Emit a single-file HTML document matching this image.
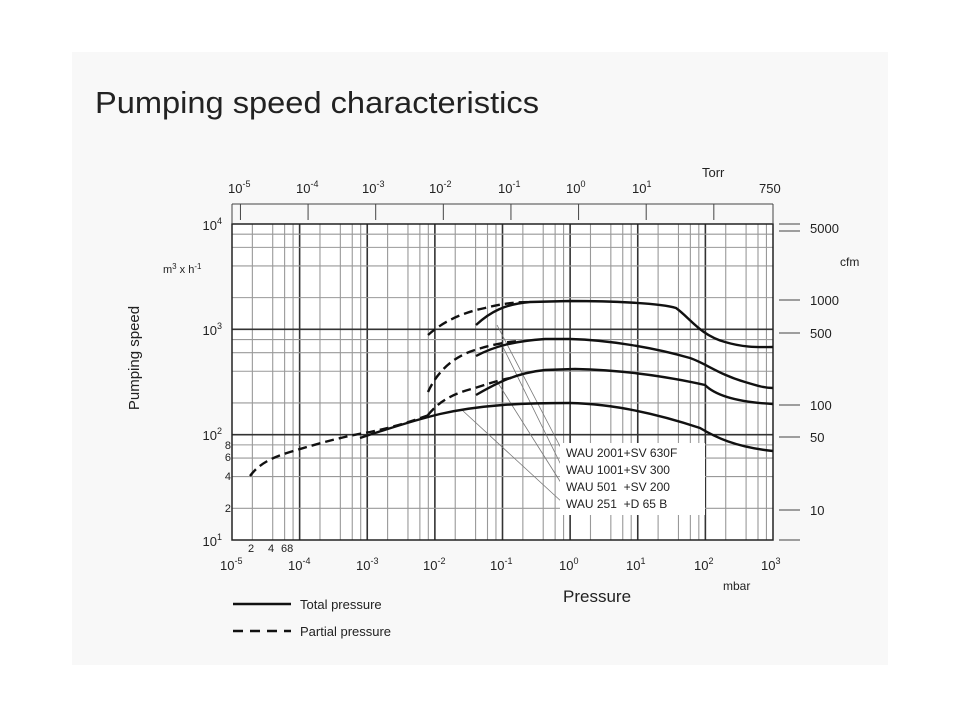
<!DOCTYPE html>
<html><head><meta charset="utf-8"><style>
body{margin:0;background:#fff;}
svg{display:block;font-family:"Liberation Sans",Arial,sans-serif;}
text{white-space:pre;}
</style></head><body>
<svg id="s" width="960" height="720" xmlns="http://www.w3.org/2000/svg">
<rect x="72" y="52" width="816" height="613" fill="#f8f8f8"/>
<text x="95" y="113" font-size="31" fill="#222" textLength="444" lengthAdjust="spacingAndGlyphs">Pumping speed characteristics</text>
<rect x="232" y="224" width="541" height="316" fill="#fff"/>
<g id="grid"></g>
<rect x="232" y="224" width="541" height="316" fill="none" stroke="#222" stroke-width="1.5"/>
<line x1="232" y1="204" x2="773" y2="204" stroke="#444" stroke-width="1"/>
<line x1="232" y1="204" x2="232" y2="224" stroke="#444"/>
<line x1="773" y1="204" x2="773" y2="224" stroke="#444"/>
<g id="ttick" stroke="#444" stroke-width="1"></g>
<g font-size="13" fill="#222">
<text x="228" y="193">10<tspan font-size="9" dy="-6">-5</tspan></text>
<text x="296" y="193">10<tspan font-size="9" dy="-6">-4</tspan></text>
<text x="362" y="193">10<tspan font-size="9" dy="-6">-3</tspan></text>
<text x="429" y="193">10<tspan font-size="9" dy="-6">-2</tspan></text>
<text x="498" y="193">10<tspan font-size="9" dy="-6">-1</tspan></text>
<text x="566" y="193">10<tspan font-size="9" dy="-6">0</tspan></text>
<text x="632" y="193">10<tspan font-size="9" dy="-6">1</tspan></text>
<text x="702" y="177">Torr</text>
<text x="759" y="193">750</text>
</g>
<g font-size="13" fill="#222" text-anchor="end">
<text x="222" y="230">10<tspan font-size="9" dy="-6">4</tspan></text>
<text x="222" y="335">10<tspan font-size="9" dy="-6">3</tspan></text>
<text x="222" y="440">10<tspan font-size="9" dy="-6">2</tspan></text>
<text x="222" y="546">10<tspan font-size="9" dy="-6">1</tspan></text>
<text x="231" y="449" font-size="11">8</text>
<text x="231" y="461" font-size="11">6</text>
<text x="231" y="480" font-size="11">4</text>
<text x="231" y="512" font-size="11">2</text>
</g>
<text x="163" y="273" font-size="11" fill="#222">m<tspan font-size="8" dy="-4">3</tspan><tspan dy="4"> x h</tspan><tspan font-size="8" dy="-4">-1</tspan></text>
<text transform="translate(139,358) rotate(-90)" font-size="15" fill="#222" text-anchor="middle">Pumping speed</text>
<g stroke="#444" stroke-width="1">
<line x1="779" y1="224" x2="800" y2="224"/><line x1="779" y1="231" x2="800" y2="231"/>
<line x1="779" y1="300" x2="800" y2="300"/><line x1="779" y1="333" x2="800" y2="333"/>
<line x1="779" y1="405" x2="800" y2="405"/><line x1="779" y1="437" x2="800" y2="437"/>
<line x1="779" y1="510" x2="800" y2="510"/><line x1="779" y1="540" x2="800" y2="540"/>
</g>
<g font-size="13" fill="#222">
<text x="810" y="233">5000</text><text x="840" y="266" font-size="12">cfm</text>
<text x="810" y="305">1000</text><text x="810" y="338">500</text>
<text x="810" y="410">100</text><text x="810" y="442">50</text><text x="810" y="515">10</text>
</g>
<g font-size="13" fill="#222">
<text x="248" y="552" font-size="11">2</text><text x="268" y="552" font-size="11">4</text><text x="281" y="552" font-size="11">68</text>
<text x="220" y="570">10<tspan font-size="9" dy="-6">-5</tspan></text>
<text x="288" y="570">10<tspan font-size="9" dy="-6">-4</tspan></text>
<text x="356" y="570">10<tspan font-size="9" dy="-6">-3</tspan></text>
<text x="423" y="570">10<tspan font-size="9" dy="-6">-2</tspan></text>
<text x="490" y="570">10<tspan font-size="9" dy="-6">-1</tspan></text>
<text x="559" y="570">10<tspan font-size="9" dy="-6">0</tspan></text>
<text x="626" y="570">10<tspan font-size="9" dy="-6">1</tspan></text>
<text x="694" y="570">10<tspan font-size="9" dy="-6">2</tspan></text>
<text x="761" y="570">10<tspan font-size="9" dy="-6">3</tspan></text>
<text x="723" y="590" font-size="12">mbar</text>
<text x="563" y="602" font-size="17">Pressure</text>
</g>
<g stroke="#777" stroke-width="0.8" fill="none">
<line x1="497" y1="325" x2="563" y2="452"/>
<line x1="502" y1="345" x2="563" y2="469"/>
<line x1="498" y1="383" x2="563" y2="486"/>
<line x1="462" y1="410" x2="563" y2="503"/>
</g>
<rect x="560" y="443" width="145" height="72" fill="#fff"/>
<g font-size="12" fill="#222">
<text x="566" y="457">WAU 2001+SV 630F</text>
<text x="566" y="474">WAU 1001+SV 300</text>
<text x="566" y="491">WAU 501  +SV 200</text>
<text x="566" y="508">WAU 251  +D 65 B</text>
</g>
<g fill="none" stroke="#111" stroke-width="2.4">
<path d="M476,325 C490,312 505,304 530,302 L570,301 C610,301 660,303 676,308 C690,318 700,335 725,342 C745,348 760,347 773,347"/>
<path d="M476,356 C495,346 515,341 545,339 L570,339 C610,340 655,348 690,358 C705,363 720,375 745,382 C758,386 765,388 773,388"/>
<path d="M476,395 C495,384 515,373 545,370 L575,369 C620,370 665,376 705,385 C715,395 735,402 773,404"/>
<path d="M360,438 C390,428 415,420 440,414 C480,405 520,403 570,403 C620,404 670,418 700,428 C715,437 735,447 773,451"/>
</g>
<g fill="none" stroke="#111" stroke-width="2.4" stroke-dasharray="9,5">
<path d="M428,335 C445,320 465,312 485,308 C500,304 515,302 530,302"/>
<path d="M428,392 C438,370 455,356 475,350 C490,345 505,342 520,341"/>
<path d="M428,415 C440,400 455,393 475,388 C490,383 500,380 515,377"/>
<path d="M250,476 C258,465 270,458 290,452 C320,443 345,436 370,432 C395,427 415,420 432,414"/>
</g>
<line x1="233" y1="604" x2="291" y2="604" stroke="#111" stroke-width="2.4"/>
<line x1="233" y1="631" x2="291" y2="631" stroke="#111" stroke-width="2.4" stroke-dasharray="10,7"/>
<text x="300" y="609" font-size="13" fill="#222">Total pressure</text>
<text x="300" y="636" font-size="13" fill="#222">Partial pressure</text>
</svg>
<script>
var NS="http://www.w3.org/2000/svg",g=document.getElementById("grid"),tt=document.getElementById("ttick");
function L(p,x1,y1,x2,y2,c,w){var l=document.createElementNS(NS,"line");l.setAttribute("x1",x1);l.setAttribute("y1",y1);l.setAttribute("x2",x2);l.setAttribute("y2",y2);l.setAttribute("stroke",c);l.setAttribute("stroke-width",w);p.appendChild(l);}
var X0=232,DX=67.625,Y0=540,DY=105.33,ks=[1,2,4,6,8];
for(var d=0;d<8;d++)ks.forEach(function(k){var x=X0+(d+Math.log10(k))*DX;if(k==1){if(d>0)L(g,x,224,x,540,"#333",1.6);}else L(g,x,224,x,540,"#999",1.1);});
for(var d=0;d<3;d++)ks.forEach(function(k){var y=Y0-(d+Math.log10(k))*DY;if(k==1){if(d>0)L(g,232,y,773,y,"#333",1.6);}else L(g,232,y,773,y,"#999",1.1);});
var off=Math.log10(1.3332);
for(var n=-5;n<=2;n++){var x=X0+(n+5+off)*DX;L(tt,x,204,x,220,"#444",1);}
</script>
</body></html>
